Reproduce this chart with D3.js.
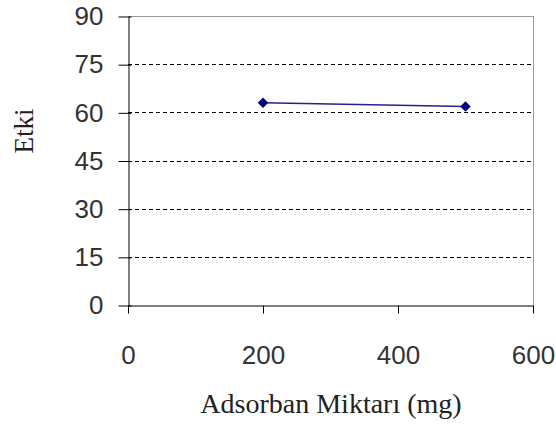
<!DOCTYPE html>
<html>
<head>
<meta charset="utf-8">
<script src="https://cdn.jsdelivr.net/npm/d3@7"></script>
<style>
  body { margin: 0; background: #fff; }
  svg { display: block; }
</style>
</head>
<body>
<div id="vis"></div>
<script>
// data
const xValues = [200, 500];
const yValues = [63, 61.8];
const xTicks = [0, 200, 400, 600];
const yTicks = [0, 15, 30, 45, 60, 75, 90];

const FRAME_WIDTH = 556;
const FRAME_HEIGHT = 427;
const MARGINS = {left: 128, right: 23, top: 16, bottom: 122};

const FRAME = d3.select("#vis")
                .append("svg")
                  .attr("width", FRAME_WIDTH)
                  .attr("height", FRAME_HEIGHT);

const xScale = d3.scaleLinear()
                 .domain([0, 600])
                 .range([MARGINS.left, FRAME_WIDTH - MARGINS.right]);
const yScale = d3.scaleLinear()
                 .domain([0, 90])
                 .range([FRAME_HEIGHT - MARGINS.bottom, MARGINS.top]);

// gridlines (dashed), skip 0 and 90
FRAME.selectAll(".grid")
     .data(yTicks.filter(d => d > 0 && d < 90))
     .enter()
     .append("line")
       .attr("x1", xScale(0))
       .attr("x2", xScale(600))
       .attr("y1", d => Math.round(yScale(d)) + 0.5)
       .attr("y2", d => Math.round(yScale(d)) + 0.5)
       .attr("stroke", "#000")
       .attr("stroke-dasharray", "4,3");

// top and right borders (gray)
FRAME.append("line")
     .attr("x1", xScale(0)).attr("x2", xScale(600))
     .attr("y1", Math.round(yScale(90)) + 0.5).attr("y2", Math.round(yScale(90)) + 0.5)
     .attr("stroke", "#999");
FRAME.append("line")
     .attr("x1", Math.round(xScale(600)) + 0.5).attr("x2", Math.round(xScale(600)) + 0.5)
     .attr("y1", yScale(90)).attr("y2", yScale(0))
     .attr("stroke", "#999");

// y axis
const yAxis = FRAME.append("g")
     .attr("transform", "translate(" + (xScale(0) + 0.5) + ",0.5)")
     .call(d3.axisLeft(yScale).tickValues(yTicks).tickSizeOuter(0));
yAxis.selectAll(".tick line").attr("x2", -10).attr("x1", 3).attr("stroke", "#000");
yAxis.selectAll("text")
     .attr("x", -25)
     .attr("font-family", "Liberation Sans, Arial, sans-serif")
     .attr("font-size", 26)
     .attr("fill", "#333");

// x axis
const xAxis = FRAME.append("g")
     .attr("transform", "translate(0," + (yScale(0) + 0.5) + ")")
     .call(d3.axisBottom(xScale).tickValues(xTicks).tickSize(8).tickSizeOuter(0));
xAxis.selectAll("text")
     .attr("y", 58)
     .attr("dy", 0)
     .attr("font-family", "Liberation Sans, Arial, sans-serif")
     .attr("font-size", 26)
     .attr("fill", "#333");

FRAME.selectAll(".domain").attr("stroke", "#000");

// series line
const line = d3.line()
               .x((d, i) => xScale(xValues[i]))
               .y(d => yScale(d));
FRAME.append("path")
     .datum(yValues)
     .attr("d", line)
     .attr("fill", "none")
     .attr("stroke", "#22228a")
     .attr("stroke-width", 1.5);

// diamond markers
FRAME.selectAll(".pt")
     .data(yValues)
     .enter()
     .append("path")
       .attr("d", d3.symbol().type(d3.symbolDiamond2).size(70))
       .attr("transform", (d, i) => "translate(" + xScale(xValues[i]) + "," + yScale(d) + ")")
       .attr("fill", "#000080");

// axis titles
FRAME.append("text")
     .attr("x", 331)
     .attr("y", 413)
     .attr("text-anchor", "middle")
     .attr("font-family", "Liberation Serif, Times New Roman, serif")
     .attr("font-size", 28)
     .attr("fill", "#222")
     .text("Adsorban Miktarı (mg)");

FRAME.append("text")
     .attr("transform", "translate(33,131) rotate(-90)")
     .attr("text-anchor", "middle")
     .attr("font-family", "Liberation Serif, Times New Roman, serif")
     .attr("font-size", 27)
     .attr("fill", "#222")
     .text("Etki");
</script>
</body>
</html>
